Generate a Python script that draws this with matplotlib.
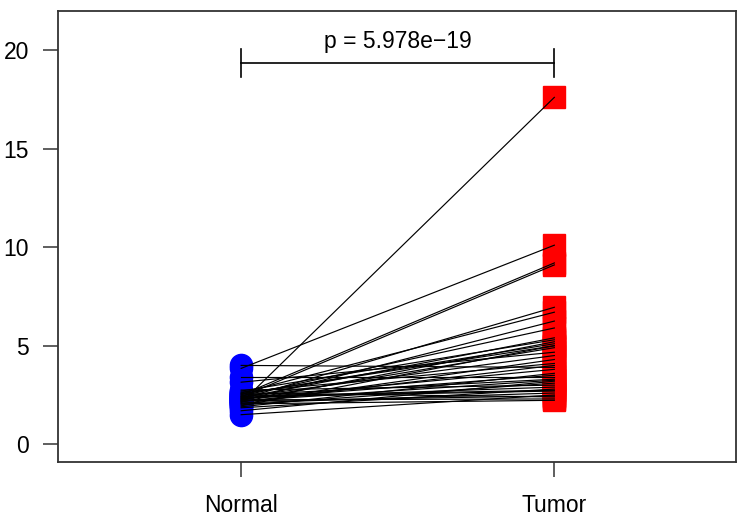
import matplotlib
matplotlib.use("Agg")
import matplotlib.pyplot as plt

# paired expression values
normal = [2.10, 3.85, 2.50, 2.40, 2.30, 2.60, 2.20, 2.45, 2.35, 2.70,
          2.15, 2.55, 1.95, 2.25, 3.15, 2.40, 2.05, 2.65, 4.00, 2.30,
          1.90, 3.40, 2.50, 2.20, 2.00, 2.75, 2.35, 1.85, 2.45, 2.10,
          1.50, 2.60, 2.25, 2.05, 2.30, 2.15, 2.55, 2.40, 1.70, 2.20]
tumor = [17.6, 10.1, 9.2, 9.1, 6.95, 6.7, 6.25, 5.9, 5.4, 5.3,
         5.2, 5.1, 5.0, 4.9, 4.67, 4.5, 4.3, 4.1, 3.9, 3.8,
         3.6, 3.4, 3.3, 3.25, 3.1, 3.0, 2.9, 2.8, 2.74, 2.6,
         2.5, 2.4, 2.3, 2.23, 3.5, 4.0, 5.0, 2.7, 3.2, 2.45]
groups = ["Normal", "Tumor"]
p_label = "p = 5.978e\u221219"

plt.rcParams['font.family'] = ['Liberation Sans', 'DejaVu Sans']

fig = plt.figure(figsize=(7.5, 5.25), dpi=100)
ax = fig.add_axes([0.0773, 0.12, 0.904, 0.859])

# points first, connecting lines drawn over them
ax.plot([1] * len(normal), normal, 'o', color='#0000ff', markersize=16, zorder=2)
ax.plot([2] * len(tumor), tumor, 's', color='#ff0000', markersize=15.5, zorder=2)
for n, t in zip(normal, tumor):
    ax.plot([1, 2], [n, t], color='black', lw=0.85, zorder=3)

# significance bracket
ax.plot([1, 2], [19.35, 19.35], color='black', lw=1.2)
ax.plot([1, 1], [18.65, 20.05], color='black', lw=1.2)
ax.plot([2, 2], [18.65, 20.05], color='black', lw=1.2)
ax.text(1.5, 20.45, p_label, ha='center', va='center', fontsize=16.5)

ax.set_xlim(0.415, 2.58)
ax.set_ylim(-0.9, 21.98)
ax.set_xticks([1, 2])
ax.set_xticklabels(groups)
ax.set_yticks([0, 5, 10, 15, 20])
ax.tick_params(axis='both', labelsize=16.5, length=11, width=1.1, color='#333333')
ax.tick_params(axis='y', pad=10)
ax.tick_params(axis='x', pad=12)
for s in ax.spines.values():
    s.set_linewidth(1.3)
    s.set_color('#333333')

fig.savefig("out.png", dpi=100)
